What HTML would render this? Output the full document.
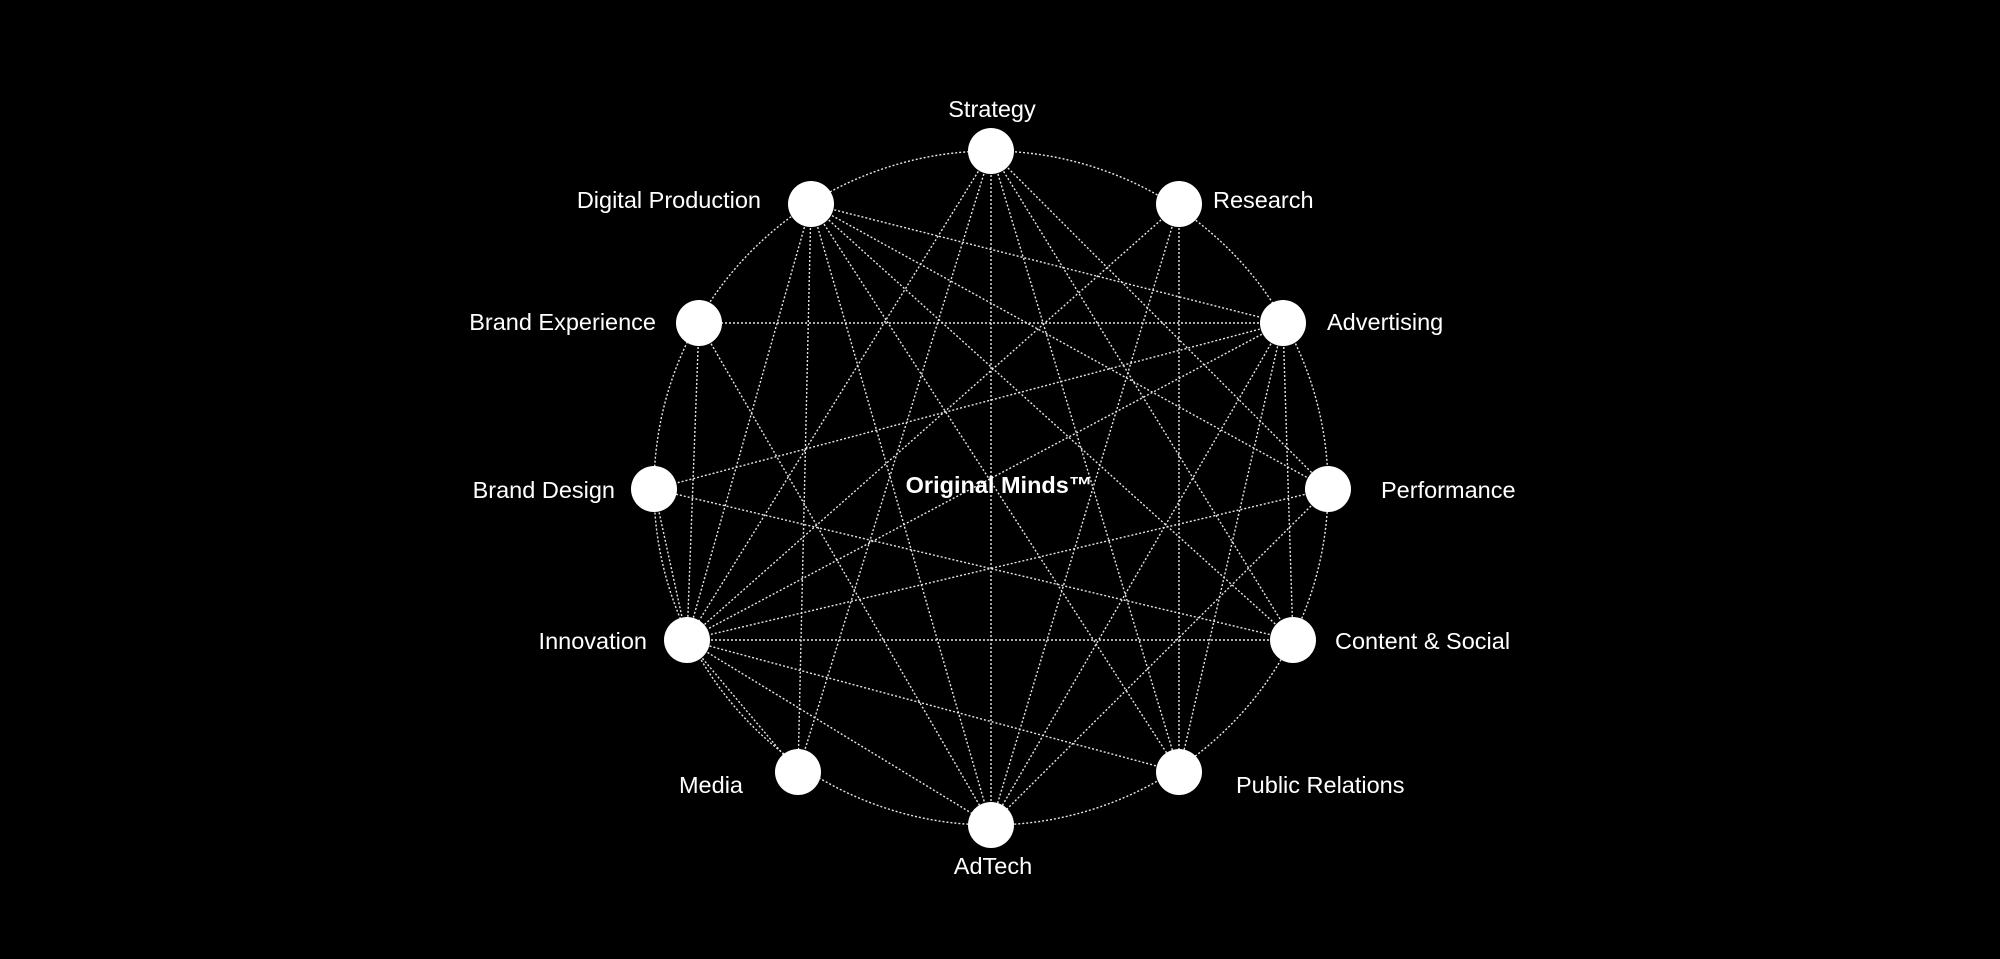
<!DOCTYPE html>
<html><head><meta charset="utf-8"><style>
html,body{margin:0;padding:0;background:#000;}
svg{display:block}
text{font-family:"Liberation Sans",sans-serif;fill:#fff;font-size:23.5px}
</style></head><body>
<svg width="2000" height="959" viewBox="0 0 2000 959" xmlns="http://www.w3.org/2000/svg">
<rect width="2000" height="959" fill="#000"/>
<g stroke="#e6e6e6" stroke-width="1.4" stroke-dasharray="2 2" fill="none">
<circle cx="991" cy="488" r="337"/>
<line x1="991" y1="151" x2="687" y2="640"/>
<line x1="991" y1="151" x2="798" y2="772"/>
<line x1="991" y1="151" x2="991" y2="825"/>
<line x1="991" y1="151" x2="1179" y2="772"/>
<line x1="991" y1="151" x2="1293" y2="640"/>
<line x1="991" y1="151" x2="1328" y2="489"/>
<line x1="811" y1="204" x2="1283" y2="323"/>
<line x1="811" y1="204" x2="1328" y2="489"/>
<line x1="811" y1="204" x2="1293" y2="640"/>
<line x1="811" y1="204" x2="1179" y2="772"/>
<line x1="811" y1="204" x2="991" y2="825"/>
<line x1="811" y1="204" x2="798" y2="772"/>
<line x1="811" y1="204" x2="687" y2="640"/>
<line x1="1179" y1="204" x2="687" y2="640"/>
<line x1="1179" y1="204" x2="991" y2="825"/>
<line x1="1179" y1="204" x2="1179" y2="772"/>
<line x1="1283" y1="323" x2="699" y2="323"/>
<line x1="1283" y1="323" x2="654" y2="489"/>
<line x1="1283" y1="323" x2="687" y2="640"/>
<line x1="1283" y1="323" x2="991" y2="825"/>
<line x1="1283" y1="323" x2="1179" y2="772"/>
<line x1="1283" y1="323" x2="1293" y2="640"/>
<line x1="1328" y1="489" x2="687" y2="640"/>
<line x1="1328" y1="489" x2="991" y2="825"/>
<line x1="1293" y1="640" x2="654" y2="489"/>
<line x1="1293" y1="640" x2="687" y2="640"/>
<line x1="1179" y1="772" x2="687" y2="640"/>
<line x1="699" y1="323" x2="687" y2="640"/>
<line x1="699" y1="323" x2="991" y2="825"/>
<line x1="654" y1="489" x2="687" y2="640"/>
<line x1="687" y1="640" x2="798" y2="772"/>
<line x1="687" y1="640" x2="991" y2="825"/>
</g>
<g fill="#fff">
<circle cx="991" cy="151" r="23"/>
<circle cx="1179" cy="204" r="23"/>
<circle cx="1283" cy="323" r="23"/>
<circle cx="1328" cy="489" r="23"/>
<circle cx="1293" cy="640" r="23"/>
<circle cx="1179" cy="772" r="23"/>
<circle cx="991" cy="825" r="23"/>
<circle cx="798" cy="772" r="23"/>
<circle cx="687" cy="640" r="23"/>
<circle cx="654" cy="489" r="23"/>
<circle cx="699" cy="323" r="23"/>
<circle cx="811" cy="204" r="23"/>
</g>
<text x="992" y="117" text-anchor="middle">Strategy</text>
<text x="1213" y="208">Research</text>
<text x="1327" y="330">Advertising</text>
<text x="1381" y="498">Performance</text>
<text x="1335" y="649">Content &amp; Social</text>
<text x="1236" y="793">Public Relations</text>
<text x="993" y="874" text-anchor="middle">AdTech</text>
<text x="711" y="793" text-anchor="middle">Media</text>
<text x="647" y="649" text-anchor="end">Innovation</text>
<text x="615" y="498" text-anchor="end">Brand Design</text>
<text x="656" y="330" text-anchor="end">Brand Experience</text>
<text x="761" y="208" text-anchor="end">Digital Production</text>
<text x="999" y="493" text-anchor="middle" font-weight="bold">Original Minds™</text>
</svg>
</body></html>
